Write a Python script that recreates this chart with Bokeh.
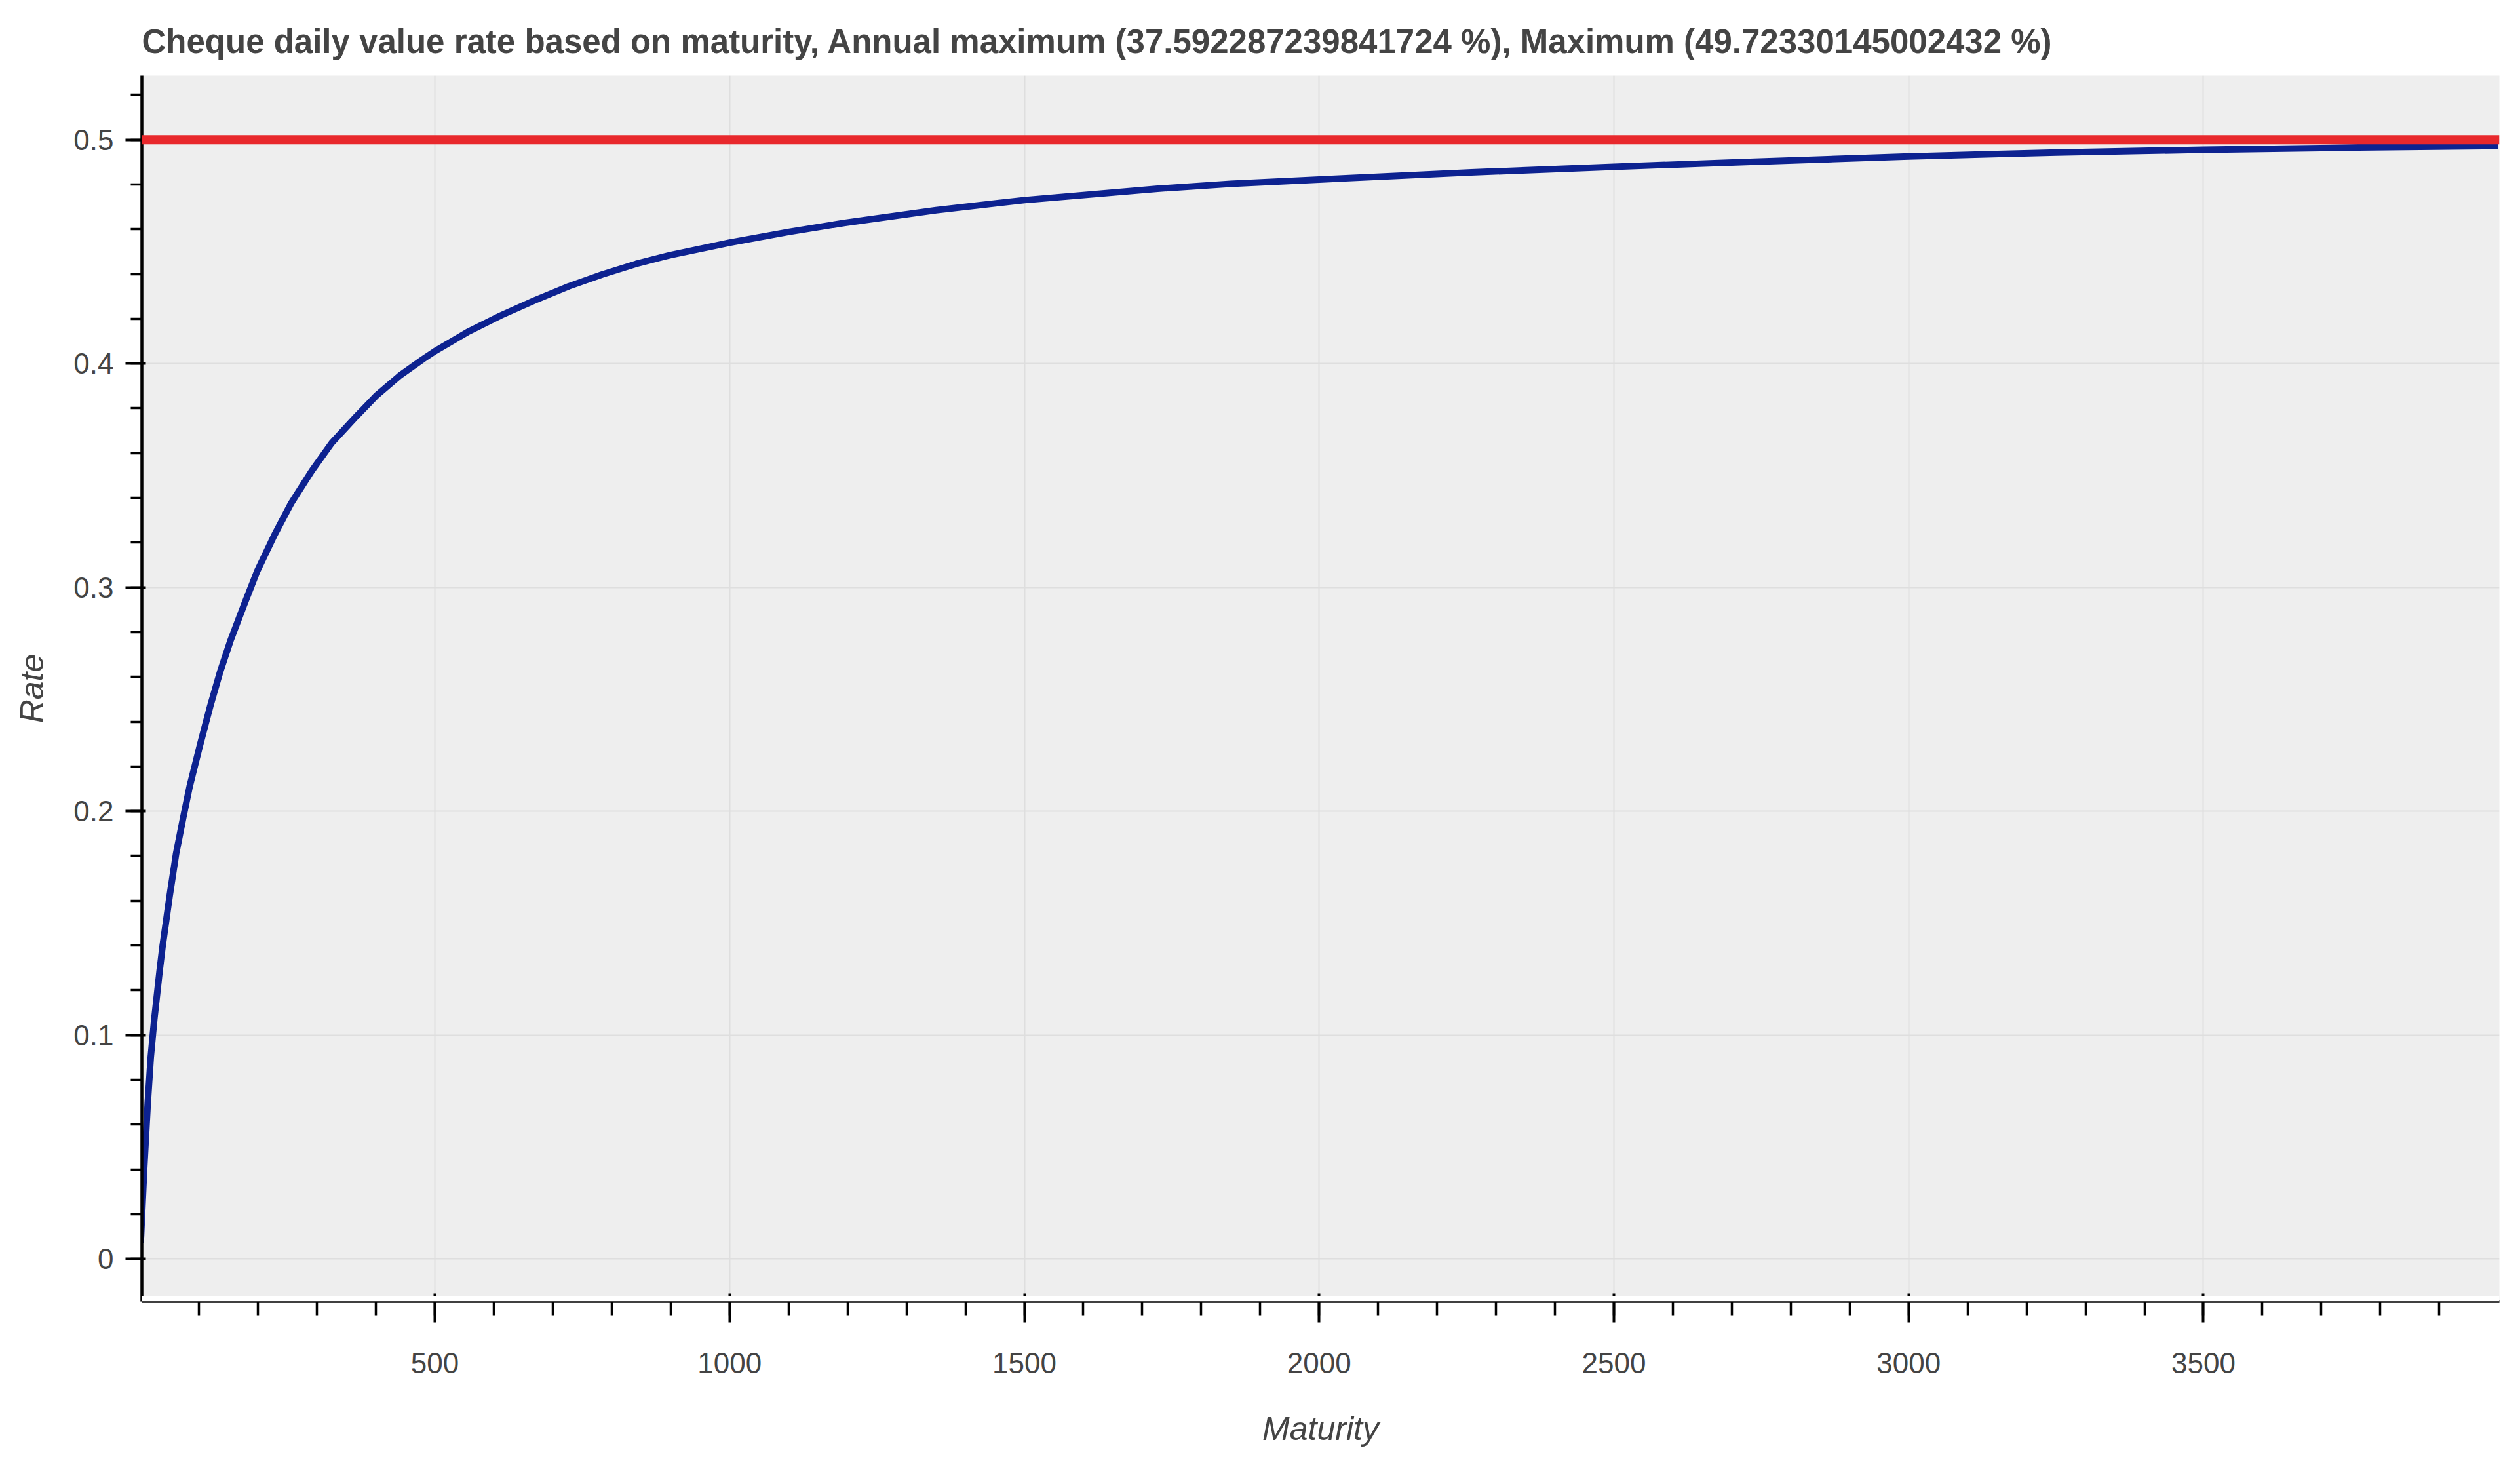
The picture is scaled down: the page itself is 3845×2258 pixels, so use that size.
from bokeh.plotting import figure
from bokeh.models import Range1d, FixedTicker, Span, BoxAnnotation
from bokeh.embed import file_html
from bokeh.resources import INLINE

# ---- data ----
maturity = [1, 7, 13, 18, 24, 33, 38, 50, 61, 73, 84, 102, 119, 136, 153, 176, 199,
            228, 256, 291, 325, 365, 400, 440, 480, 500, 555, 612, 669, 727, 784,
            841, 900, 1000, 1100, 1194, 1350, 1500, 1726, 1850, 2000, 2258, 2500,
            2739, 3000, 3251, 3500, 3763, 4000]
rate = [0.0070, 0.0410, 0.0700, 0.0900, 0.1070, 0.1285, 0.1395, 0.1620, 0.1810,
        0.1970, 0.2110, 0.2300, 0.2470, 0.2625, 0.2760, 0.2920, 0.3075, 0.3235,
        0.3375, 0.3520, 0.3645, 0.3759, 0.3855, 0.3945, 0.4020, 0.4055, 0.4140,
        0.4215, 0.4282, 0.4345, 0.4398, 0.4445, 0.4485, 0.4540, 0.4588, 0.4628,
        0.4685, 0.4730, 0.4781, 0.4803, 0.4822, 0.4854, 0.4879, 0.4902, 0.4925,
        0.4943, 0.4955, 0.4965, 0.4972]
max_line_value = 0.5

title_text = ("Cheque daily value rate based on maturity, Annual maximum "
              "(37.592287239841724 %), Maximum (49.72330145002432 %)")
x_label = "Maturity"
y_label = "Rate"
x_ticks = [500, 1000, 1500, 2000, 2500, 3000, 3500]
x_tick_labels = ["500", "1000", "1500", "2000", "2500", "3000", "3500"]
y_ticks = [0, 0.1, 0.2, 0.3, 0.4, 0.5]
y_tick_labels = ["0", "0.1", "0.2", "0.3", "0.4", "0.5"]

FONT = "Liberation Sans"
TXT = "#444444"

p = figure(width=3829, height=2242, output_backend="svg", toolbar_location=None,
           x_range=Range1d(3, 4002), y_range=Range1d(-0.0190, 0.5286),
           min_border_left=216, min_border_right=16, min_border_top=115,
           min_border_bottom=257,
           background_fill_color="#eeeeee", border_fill_color="white")
p.outline_line_color = None

p.title.text = title_text
p.title.text_font = FONT
p.title.text_font_size = "51px"
p.title.text_font_style = "bold"
p.title.text_color = TXT
p.title.standoff = 47

# axes
p.xaxis.ticker = FixedTicker(ticks=x_ticks, minor_ticks=list(range(100, 4000, 100)))
p.xaxis.major_label_overrides = dict(zip(x_ticks, x_tick_labels))
p.yaxis.ticker = FixedTicker(ticks=y_ticks,
                             minor_ticks=[round(i * 0.02, 2) for i in range(0, 27)])
p.yaxis.major_label_overrides = dict(zip(y_ticks, y_tick_labels))

for ax in (p.xaxis[0], p.yaxis[0]):
    ax.axis_line_color = "black"
    ax.axis_line_width = 4.5
    ax.major_tick_line_color = "black"
    ax.minor_tick_line_color = "black"
    ax.major_tick_line_width = 4
    ax.minor_tick_line_width = 3.5
    ax.minor_tick_in = 0
    ax.major_label_text_font = FONT
    ax.major_label_text_font_size = "44px"
    ax.major_label_text_color = TXT
    ax.axis_label_text_font = FONT
    ax.axis_label_text_font_size = "50px"
    ax.axis_label_text_font_style = "italic"
    ax.axis_label_text_color = TXT

p.xaxis.axis_label = x_label
p.yaxis.axis_label = y_label
p.xaxis.major_tick_out = 32
p.xaxis.major_tick_in = 12
p.xaxis.minor_tick_out = 22
p.xaxis.major_label_standoff = 46
p.xaxis.axis_label_standoff = 54
p.yaxis.major_tick_out = 25
p.yaxis.major_tick_in = 6
p.yaxis.minor_tick_out = 17
p.yaxis.major_label_standoff = 18
p.yaxis.axis_label_standoff = 32

p.xgrid.grid_line_color = "#dedede"
p.xgrid.grid_line_width = 2
p.ygrid.grid_line_color = "#dedede"
p.ygrid.grid_line_width = 2

# thin white strip between the grey plot area and the x axis
p.add_layout(BoxAnnotation(top=-0.0167, fill_color="white", fill_alpha=1.0,
                           line_color=None))

p.line(maturity, rate, line_color="#0d2290", line_width=10, line_join="round")
p.add_layout(Span(location=max_line_value, dimension="width",
                  line_color="#e8282c", line_width=14))

open("out.html", "w").write(file_html(p, INLINE))
